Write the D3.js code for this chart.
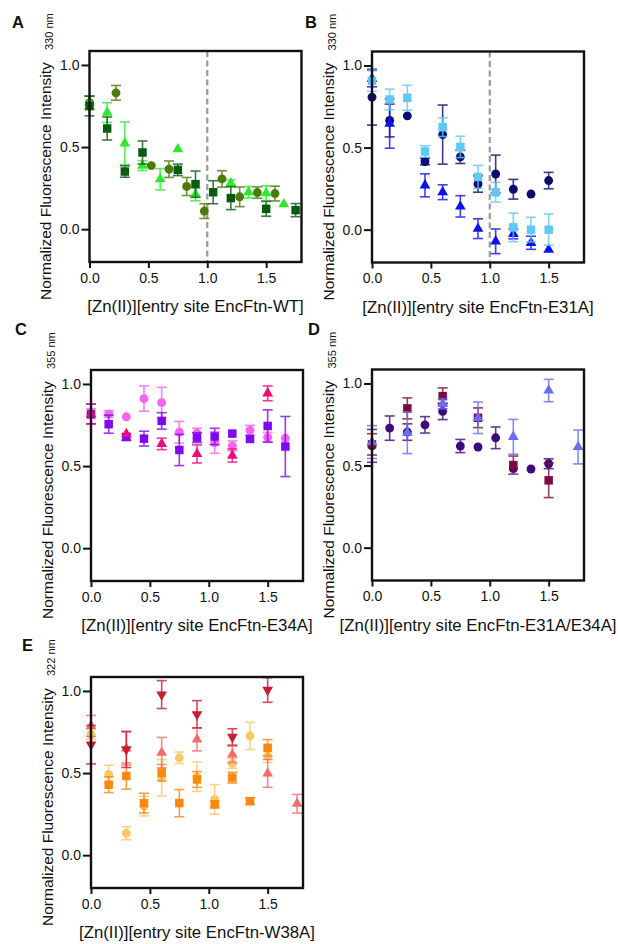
<!DOCTYPE html>
<html><head><meta charset="utf-8">
<script src="https://cdn.jsdelivr.net/npm/d3@7"></script>
<style>body{margin:0;background:#fff}svg{display:block}text{font-family:"Liberation Sans",Arial,sans-serif;fill:#111}</style>
</head><body>
<svg id="chart" width="618" height="944"></svg>
<script>
// ---------- data ----------
const xTicks = [0, 0.5, 1.0, 1.5];
const yTicks = [0, 0.5, 1.0];
const xTickLabels = ["0.0", "0.5", "1.0", "1.5"];
const yTickLabels = ["0.0", "0.5", "1.0"];
const panelLetters = ["A", "B", "C", "D", "E"];
const yTitle = "Normalized Fluorescence Intensity";
const subscripts = ["330 nm", "330 nm", "355 nm", "355 nm", "322 nm"];
const xTitles = ["[Zn(II)][entry site EncFtn-WT]", "[Zn(II)][entry site EncFtn-E31A]",
  "[Zn(II)][entry site EncFtn-E34A]", "[Zn(II)][entry site EncFtn-E31A/E34A]",
  "[Zn(II)][entry site EncFtn-W38A]"];

// Panel A
const A_ci_x = [0, 0.225, 0.525, 0.675, 0.825, 0.975, 1.125, 1.275, 1.425, 1.575];
const A_ci_y = [0.77, 0.83, 0.387, 0.365, 0.26, 0.11, 0.306, 0.197, 0.223, 0.217];
const A_ci_e = [0.04, 0.045, 0, 0.05, 0.055, 0.045, 0.05, 0.06, 0.035, 0.045];
const A_tr_x = [0, 0.15, 0.3, 0.45, 0.6, 0.75, 0.9, 1.2, 1.35, 1.5, 1.65];
const A_tr_y = [0.77, 0.71, 0.523, 0.387, 0.304, 0.487, 0.213, 0.28, 0.225, 0.219, 0.152];
const A_tr_e = [0.04, 0.06, 0.13, 0.03, 0.065, 0, 0.04, 0.02, 0.035, 0.045, 0];
const A_sq_x = [0, 0.15, 0.3, 0.45, 0.75, 0.9, 1.05, 1.2, 1.5, 1.75];
const A_sq_y = [0.75, 0.613, 0.351, 0.467, 0.361, 0.274, 0.225, 0.189, 0.124, 0.116];
const A_sq_e = [0.06, 0.07, 0.035, 0.07, 0.035, 0.08, 0.07, 0.07, 0.045, 0.04];

// Panel B
const B_ci_x = [0, 0.15, 0.3, 0.45, 0.6, 0.75, 0.9, 1.05, 1.2, 1.35, 1.5];
const B_ci_y = [0.807, 0.665, 0.693, 0.415, 0.579, 0.443, 0.278, 0.339, 0.246, 0.217, 0.299];
const B_ci_e = [0.17, 0.1, 0, 0.02, 0.18, 0.04, 0.05, 0.115, 0.06, 0, 0.05];
const B_tr_x = [0, 0.15, 0.45, 0.6, 0.75, 0.9, 1.05, 1.2, 1.35, 1.5];
const B_tr_y = [0.92, 0.646, 0.27, 0.228, 0.142, 0.006, -0.071, -0.026, -0.08, -0.122];
const B_tr_e = [0.05, 0.15, 0.07, 0.045, 0.065, 0.06, 0.075, 0.03, 0.04, 0];
const B_sq_x = [0, 0.15, 0.3, 0.45, 0.6, 0.75, 0.9, 1.05, 1.2, 1.35, 1.5];
const B_sq_y = [0.907, 0.793, 0.803, 0.476, 0.624, 0.504, 0.321, 0.228, 0.014, 0, 0];
const B_sq_e = [0.065, 0.063, 0.076, 0.035, 0.057, 0.065, 0.07, 0.06, 0.087, 0.075, 0.095];

// Panel C
const C_ci_x = [0, 0.15, 0.3, 0.45, 0.6, 0.75, 0.9, 1.05, 1.2, 1.35, 1.5, 1.65];
const C_ci_y = [0.82, 0.817, 0.8, 0.911, 0.886, 0.706, 0.7, 0.643, 0.623, 0.718, 0.675, 0.669];
const C_ci_e = [0.03, 0.02, 0, 0.077, 0.093, 0.066, 0.03, 0.065, 0.03, 0.03, 0.03, 0];
const C_sq_x = [0, 0.15, 0.3, 0.45, 0.6, 0.75, 0.9, 1.05, 1.2, 1.35, 1.5, 1.65];
const C_sq_y = [0.817, 0.755, 0.677, 0.667, 0.775, 0.598, 0.673, 0.68, 0.698, 0.665, 0.744, 0.619];
const C_sq_e = [0.06, 0.055, 0.02, 0.045, 0.05, 0.095, 0.03, 0.05, 0, 0, 0.098, 0.183];
const C_tr_x = [0, 0.3, 0.6, 0.9, 1.2, 1.5];
const C_tr_y = [0.817, 0.696, 0.635, 0.574, 0.564, 0.943];
const C_tr_e = [0.06, 0, 0.035, 0.055, 0.04, 0.045];

// Panel D
const D_ci_x = [0, 0.15, 0.3, 0.45, 0.6, 0.75, 0.9, 1.05, 1.2, 1.35, 1.5];
const D_ci_y = [0.62, 0.728, 0.704, 0.748, 0.83, 0.619, 0.613, 0.669, 0.481, 0.479, 0.511];
const D_ci_e = [0.1, 0.074, 0.05, 0.05, 0.05, 0.04, 0, 0.066, 0, 0, 0.03];
const D_sq_x = [0, 0.3, 0.6, 0.9, 1.2, 1.5];
const D_sq_y = [0.629, 0.848, 0.923, 0.791, 0.503, 0.41];
const D_sq_e = [0.065, 0.064, 0.05, 0.06, 0.055, 0.105];
const D_tr_x = [0, 0.3, 0.6, 0.9, 1.2, 1.5, 1.75];
const D_tr_y = [0.643, 0.7, 0.876, 0.791, 0.675, 0.957, 0.613];
const D_tr_e = [0.1, 0.127, 0.03, 0.096, 0.106, 0.068, 0.103];

// Panel E
const E_ci_x = [0, 0.15, 0.3, 0.45, 0.6, 0.75, 0.9, 1.05, 1.2, 1.35, 1.5];
const E_ci_y = [0.736, 0.492, 0.134, 0.299, 0.472, 0.593, 0.478, 0.34, 0.559, 0.726, 0.604];
const E_ci_e = [0.03, 0.056, 0.04, 0.06, 0.11, 0.035, 0.09, 0.09, 0.03, 0.083, 0.04];
const E_sq_x = [0.15, 0.3, 0.45, 0.6, 0.75, 0.9, 1.05, 1.2, 1.35, 1.5];
const E_sq_y = [0.429, 0.482, 0.317, 0.502, 0.317, 0.461, 0.309, 0.472, 0.329, 0.654];
const E_sq_e = [0.048, 0.08, 0.06, 0.05, 0.083, 0.048, 0.02, 0.033, 0.02, 0.05];
const E_up_x = [0, 0.3, 0.6, 0.9, 1.2, 1.5, 1.75];
const E_up_y = [0.787, 0.65, 0.624, 0.705, 0.614, 0.498, 0.313];
const E_up_e = [0.064, 0.1, 0.093, 0.07, 0.05, 0.085, 0.057];
const E_dn_x = [0, 0.3, 0.6, 0.9, 1.2, 1.5];
const E_dn_y = [0.673, 0.644, 0.978, 0.858, 0.72, 1.006];
const E_dn_e = [0.117, 0.11, 0.085, 0.083, 0.05, 0.075];

// ---------- layout / styles ----------
const W = 212, H = 211;
const layout = [
  {left: 89.5, top: 51, lx: 12, ly: 28},
  {left: 372, top: 51.5, lx: 305, ly: 28},
  {left: 91, top: 370, lx: 15, ly: 335},
  {left: 372, top: 369.5, lx: 308, ly: 335},
  {left: 91, top: 677, lx: 22, ly: 651}
];
const mk = (x, y, e, shape, color) => ({x, y, e, shape, color});
const seriesByPanel = [
  [mk(A_ci_x, A_ci_y, A_ci_e, "circle", "#4a7a08"),
   mk(A_tr_x, A_tr_y, A_tr_e, "up", "#2ee82e"),
   mk(A_sq_x, A_sq_y, A_sq_e, "square", "#0a5a12")],
  [mk(B_ci_x, B_ci_y, B_ci_e, "circle", "#0b0b72"),
   mk(B_tr_x, B_tr_y, B_tr_e, "up", "#1010ee"),
   mk(B_sq_x, B_sq_y, B_sq_e, "square", "#60c8f5")],
  [mk(C_ci_x, C_ci_y, C_ci_e, "circle", "#f563ef"),
   mk(C_sq_x, C_sq_y, C_sq_e, "square", "#7f08f2"),
   mk(C_tr_x, C_tr_y, C_tr_e, "up", "#f00a7a")],
  [mk(D_ci_x, D_ci_y, D_ci_e, "circle", "#3c0a7c"),
   mk(D_sq_x, D_sq_y, D_sq_e, "square", "#7c0a40"),
   mk(D_tr_x, D_tr_y, D_tr_e, "up", "#6a6cf6")],
  [mk(E_ci_x, E_ci_y, E_ci_e, "circle", "#f8c866"),
   mk(E_sq_x, E_sq_y, E_sq_e, "square", "#fb8710"),
   mk(E_up_x, E_up_y, E_up_e, "up", "#f76b6b"),
   mk(E_dn_x, E_dn_y, E_dn_e, "down", "#c81e34")]
];
const dashedPanels = [true, true, false, false, false];

const svg = d3.select("#chart");
const sym = {
  circle: d3.symbol().type(d3.symbolCircle).size(62),
  square: d3.symbol().type(d3.symbolSquare).size(72),
  up: d3.symbol().type(d3.symbolTriangle).size(50),
  down: d3.symbol().type(d3.symbolTriangle).size(50)
};

layout.forEach((L, i) => {
  const x = d3.scaleLinear().domain([0, 1.8]).range([0, W]);
  const y = d3.scaleLinear().domain([-0.2, 1.085]).range([H, 0]);
  const g = svg.append("g").attr("transform", `translate(${L.left},${L.top})`);

  // panel letter
  svg.append("text").attr("x", L.lx).attr("y", L.ly)
    .attr("font-size", 16.5).attr("font-weight", "bold").text(panelLetters[i]);

  // axes
  const yAxis = d3.axisLeft(y).tickValues(yTicks).tickFormat((d, k) => yTickLabels[k])
    .tickSize(8).tickSizeOuter(0).tickPadding(2);
  const xAxis = d3.axisBottom(x).tickValues(xTicks).tickFormat((d, k) => xTickLabels[k])
    .tickSize(6).tickSizeOuter(0).tickPadding(5);
  const ya = g.append("g").call(yAxis);
  const xa = g.append("g").attr("transform", `translate(0,${H})`).call(xAxis);
  [ya, xa].forEach(a => {
    a.select(".domain").remove();
    a.selectAll("line").attr("stroke", "#111").attr("stroke-width", 2);
    a.selectAll("text").attr("font-size", 14).attr("fill", "#111")
      .attr("font-family", '"Liberation Sans",Arial,sans-serif');
  });

  // dashed line
  if (dashedPanels[i]) {
    g.append("line").attr("x1", x(1)).attr("x2", x(1)).attr("y1", 0).attr("y2", H)
      .attr("stroke", "#9a9a9a").attr("stroke-width", 2.2).attr("stroke-dasharray", "6,3.5");
  }

  // series
  seriesByPanel[i].forEach(s => {
    const pts = s.x.map((xv, k) => ({x: xv, y: s.y[k], e: s.e[k]}));
    const eg = g.append("g").attr("stroke", s.color).attr("stroke-width", 1.6).attr("opacity", 0.8);
    pts.filter(p => p.e > 0).forEach(p => {
      const cx = x(p.x), y1 = y(p.y + p.e), y2 = y(p.y - p.e);
      eg.append("line").attr("x1", cx).attr("x2", cx).attr("y1", y1).attr("y2", y2);
      eg.append("line").attr("x1", cx - 5).attr("x2", cx + 5).attr("y1", y1).attr("y2", y1);
      eg.append("line").attr("x1", cx - 5).attr("x2", cx + 5).attr("y1", y2).attr("y2", y2);
    });
    g.append("g").selectAll("path").data(pts).join("path")
      .attr("d", sym[s.shape]())
      .attr("fill", s.color)
      .attr("transform", p => `translate(${x(p.x)},${y(p.y)})` + (s.shape === "down" ? " rotate(180)" : ""));
  });

  // frame
  g.append("rect").attr("x", 0).attr("y", 0).attr("width", W).attr("height", H)
    .attr("fill", "none").attr("stroke", "#111").attr("stroke-width", 2.4);

  // x title
  g.append("text").attr("x", W / 2).attr("y", H + 50).attr("text-anchor", "middle")
    .attr("font-size", 16.8).text(xTitles[i]);

  // y title + subscript
  g.append("text").attr("transform", `translate(-38.5,${H + 38}) rotate(-90)`)
    .attr("text-anchor", "start").attr("font-size", 15.5).text(yTitle);
  g.append("text").attr("transform", `translate(-36.5,${-1}) rotate(-90)`)
    .attr("text-anchor", "start").attr("font-size", 11).text(subscripts[i]);
});
</script>
</body></html>
